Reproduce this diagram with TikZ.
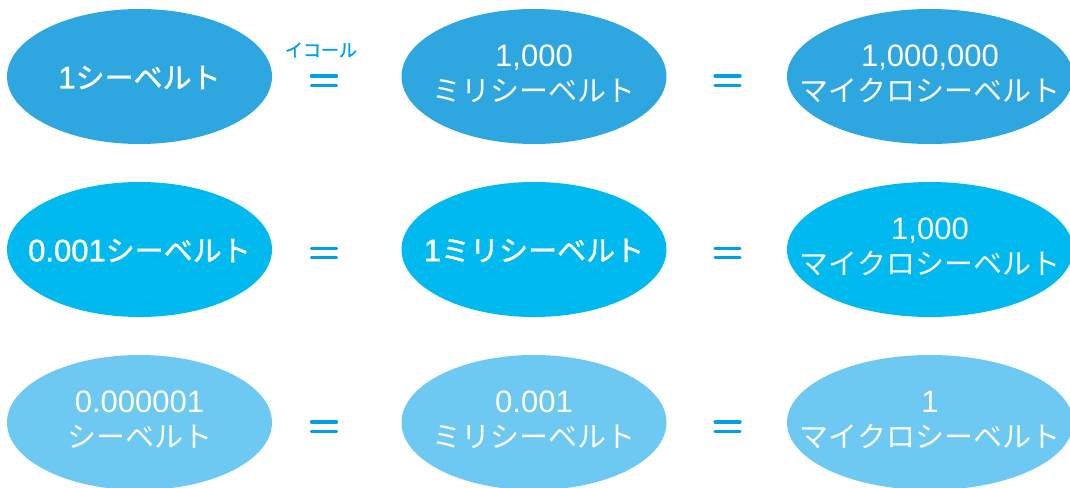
\documentclass[tikz,border=0pt]{standalone}
\usepackage{fontspec}
\setmainfont{Noto Sans CJK JP}
\newfontfamily\jpb[FakeBold=1.2]{Noto Sans CJK JP}
\newfontfamily\numf{Liberation Sans}
\newfontfamily\numb[FakeBold=1.2]{Liberation Sans}
\newcommand{\nm}[1]{{\fontsize{31}{35}\selectfont\numf #1}}
\newcommand{\nmb}[1]{{\fontsize{31}{35}\selectfont\numb #1}}
\usetikzlibrary{shapes.geometric}
\definecolor{rowa}{HTML}{2EA7E0}
\definecolor{rowb}{HTML}{00B9EF}
\definecolor{rowc}{HTML}{6DC9F2}
\definecolor{eqc}{HTML}{00A0E9}
\tikzset{
  blob/.style={ellipse, inner sep=0pt, minimum width=265pt, minimum height=135pt},
  wide/.style={minimum width=286pt},
  lbl/.style={text=white, align=center, inner sep=0pt, font=\fontsize{29}{35}\selectfont},
  lblb/.style={text=white, align=center, inner sep=0pt, font=\fontsize{29}{35}\selectfont\jpb},
  eqbar/.style={draw=eqc, line width=3.2pt, line cap=round},
  note/.style={text=eqc, inner sep=0pt, font=\fontsize{18}{20}\selectfont\jpb}
}
\newcommand{\eqmark}[1]{%
  \draw[eqbar] ([shift={(-12.5,-4.6)}]#1) -- ([shift={(12.5,-4.6)}]#1);
  \draw[eqbar] ([shift={(-12.5,4.6)}]#1) -- ([shift={(12.5,4.6)}]#1);}
\begin{document}
\begin{tikzpicture}[x=1pt,y=-1pt]
\useasboundingbox (0,0) rectangle (1070,487);
\clip (0,0) rectangle (1070,487);
% row 1
\node[blob, fill=rowa] (a1) at (139.5,76.5) {};
\node[blob, fill=rowa] (a2) at (534,76.5) {};
\node[blob, wide, fill=rowa] (a3) at (930,76.5) {};
\node[lblb] (ta1) at ([yshift=-1]a1.center) {\nmb{1}シーベルト};
\node[lbl] (ta2) at ([yshift=3]a2.center) {\nm{1,000}\\ミリシーベルト};
\node[lbl] (ta3) at ([yshift=3]a3.center) {\nm{1,000,000}\\マイクロシーベルト};
% row 2
\node[blob, fill=rowb] (b1) at (139.5,249.5) {};
\node[blob, fill=rowb] (b2) at (534,249.5) {};
\node[blob, wide, fill=rowb] (b3) at (930,249.5) {};
\node[lblb] (tb1) at ([yshift=-1]b1.center) {\nmb{0.001}シーベルト};
\node[lblb] (tb2) at ([yshift=-1]b2.center) {\nmb{1}ミリシーベルト};
\node[lbl] (tb3) at ([yshift=3]b3.center) {\nm{1,000}\\マイクロシーベルト};
% row 3
\node[blob, fill=rowc] (c1) at (139.5,422.5) {};
\node[blob, fill=rowc] (c2) at (534,422.5) {};
\node[blob, wide, fill=rowc] (c3) at (930,422.5) {};
\node[lbl] (tc1) at ([yshift=3]c1.center) {\nm{0.000001}\\シーベルト};
\node[lbl] (tc2) at ([yshift=3]c2.center) {\nm{0.001}\\ミリシーベルト};
\node[lbl] (tc3) at ([yshift=3]c3.center) {\nm{1}\\マイクロシーベルト};
% equals signs
\coordinate (e1) at (324,80.5);
\coordinate (e2) at (727.5,80.5);
\coordinate (e3) at (324,253);
\coordinate (e4) at (727.5,253);
\coordinate (e5) at (324,426.5);
\coordinate (e6) at (727.5,426.5);
\eqmark{e1}\eqmark{e2}\eqmark{e3}\eqmark{e4}\eqmark{e5}\eqmark{e6}
\node[note] (n1) at (321,50) {イコール};
\end{tikzpicture}
\end{document}
